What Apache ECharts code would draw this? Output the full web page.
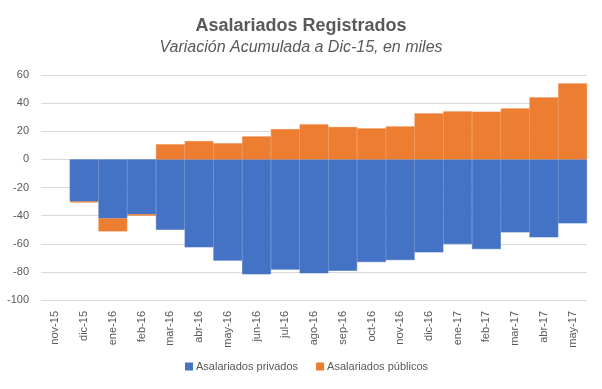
<!DOCTYPE html>
<html><head><meta charset="utf-8">
<script src="https://cdn.jsdelivr.net/npm/echarts@6/dist/echarts.min.js"></script>
<style>html,body{margin:0;padding:0;background:#fff}#c{width:602px;height:389px}</style>
</head><body><div id="c"></div>
<script>
const categories = ['nov-15','dic-15','ene-16','feb-16','mar-16','abr-16','may-16','jun-16','jul-16','ago-16','sep-16','oct-16','nov-16','dic-16','ene-17','feb-17','mar-17','abr-17','may-17'];
const privados = [null,-30,-42,-39,-50,-62.5,-72,-81.7,-78.4,-81,-79.2,-73,-71.6,-66.1,-60.2,-63.8,-51.9,-55.4,-45.5];
const publicos = [null,-0.6,-9.2,-1,10.7,13,11.4,16.3,21.5,24.9,23,22,23.4,32.7,34.1,33.9,36.2,44.1,54];
const yTicks = [-100,-80,-60,-40,-20,0,20,40,60];

const font = 'Liberation Sans';
const chart = echarts.init(document.getElementById('c'), null, {renderer:'canvas'});
chart.setOption({
  animation:false,
  textStyle:{fontFamily:font},
  title:{
    text:'Asalariados Registrados',
    subtext:'Variación Acumulada a Dic-15, en miles',
    left:'center', top:12, itemGap:5,
    textStyle:{fontFamily:font,fontSize:18,fontWeight:'bold',color:'#595959'},
    subtextStyle:{fontFamily:font,fontSize:16,fontStyle:'italic',color:'#595959'}
  },
  legend:{
    bottom:12, left:180, itemWidth:6, itemHeight:6, itemGap:18,
    icon:'rect',
    textStyle:{fontFamily:font,fontSize:11,color:'#595959',padding:[0,0,0,-1]},
    data:['Asalariados privados','Asalariados públicos']
  },
  grid:{left:41,right:15,top:75,bottom:89,containLabel:false},
  xAxis:{
    type:'category', data:categories, boundaryGap:true,
    axisLine:{show:false}, axisTick:{show:false},
    axisLabel:{rotate:90, interval:0, fontSize:11, color:'#595959', margin:11, fontFamily:font}
  },
  yAxis:{
    type:'value', min:-100, max:60, interval:20,
    axisLine:{show:false}, axisTick:{show:false},
    axisLabel:{fontSize:11, color:'#595959', margin:12, fontFamily:font,
      formatter:v=>yTicks.includes(v)?String(v):''},
    splitLine:{lineStyle:{color:'#d9d9d9',width:1}}
  },
  series:[
    {name:'Asalariados privados', type:'bar', stack:'a', data:privados,
     barCategoryGap:'0%', itemStyle:{color:'#4472c4',borderColor:'#4472c4',borderWidth:0.6}},
    {name:'Asalariados públicos', type:'bar', stack:'a', data:publicos,
     barCategoryGap:'0%', itemStyle:{color:'#ed7d31',borderColor:'#ed7d31',borderWidth:0.6}}
  ]
});
</script></body></html>
